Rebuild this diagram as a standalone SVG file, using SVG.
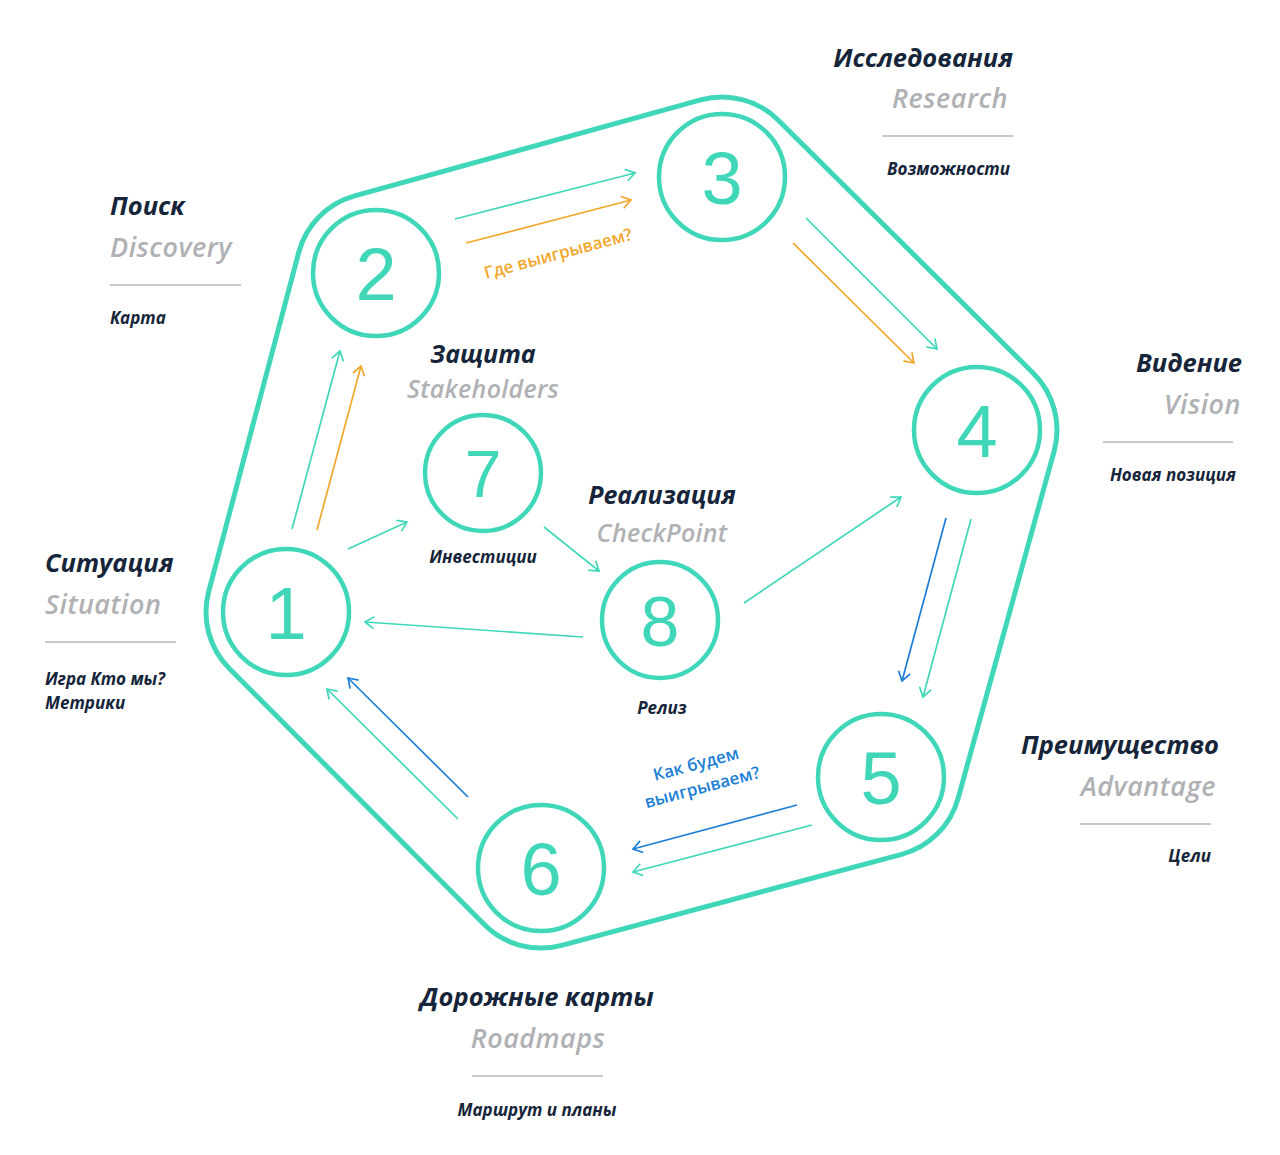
<svg xmlns="http://www.w3.org/2000/svg" width="1280" height="1155" viewBox="0 0 1280 1155">
<style>
.ring{fill:none;stroke:#40d7b9;stroke-width:4.5}
.hull{fill:none;stroke:#40d7b9;stroke-width:5}
.num{font-family:"Liberation Sans","Inter",sans-serif;fill:#40d7b9;text-anchor:middle}
.t{font-family:"Open Sans","Noto Sans",sans-serif;font-style:italic;font-weight:700;font-size:25.5px;fill:#16253a}
.s{font-family:"Open Sans","Noto Sans",sans-serif;font-style:italic;font-weight:600;font-size:27px;letter-spacing:0.5px;fill:#afb1b4}
.d{font-family:"Open Sans","Noto Sans",sans-serif;font-style:italic;font-weight:700;font-size:17px;fill:#16253a}
.t.sm{font-size:25px}
.s.sm{font-size:25px;letter-spacing:0.3px}
.rule{stroke:#8d929a;stroke-width:1}
.a{fill:none;stroke-width:1.7}
.tl{stroke:#40d7b9}
.or{stroke:#f2a72c}
.bl{stroke:#1c7fd5}
.q{font-family:"Open Sans","Noto Sans",sans-serif;font-weight:600;font-size:17px}
</style>
<defs>
<marker id="mt" markerUnits="userSpaceOnUse" markerWidth="20" markerHeight="20" refX="0" refY="0" viewBox="-12 -10 14 20" orient="auto"><path d="M-9,-6 L0,0 L-9,6" fill="none" stroke="#40d7b9" stroke-width="1.7"/></marker>
<marker id="mo" markerUnits="userSpaceOnUse" markerWidth="20" markerHeight="20" refX="0" refY="0" viewBox="-12 -10 14 20" orient="auto"><path d="M-9,-6 L0,0 L-9,6" fill="none" stroke="#f2a72c" stroke-width="1.7"/></marker>
<marker id="mb" markerUnits="userSpaceOnUse" markerWidth="20" markerHeight="20" refX="0" refY="0" viewBox="-12 -10 14 20" orient="auto"><path d="M-9,-6 L0,0 L-9,6" fill="none" stroke="#1c7fd5" stroke-width="1.7"/></marker>
</defs>
<rect width="1280" height="1155" fill="#ffffff"/>
<path class="hull" d="M208.7,591.5 L298.7,252.5 A80,80 0 0 1 354.6,195.9 L700.6,99.9 A80,80 0 0 1 778.3,120.2 L1033.3,373.2 A80,80 0 0 1 1054.1,451.3 L958.1,798.3 A80,80 0 0 1 901.7,854.3 L561.7,945.3 A80,80 0 0 1 484.3,924.5 L229.3,668.5 A80,80 0 0 1 208.7,591.5 Z"/>
<g id="connectors">
<line class="a tl" x1="455" y1="219" x2="635" y2="173" marker-end="url(#mt)"/>
<line class="a or" x1="466" y1="243" x2="631" y2="200" marker-end="url(#mo)"/>
<line class="a tl" x1="806" y1="218" x2="937" y2="349" marker-end="url(#mt)"/>
<line class="a or" x1="793" y1="243" x2="914" y2="363" marker-end="url(#mo)"/>
<line class="a bl" x1="946" y1="518" x2="902" y2="681" marker-end="url(#mb)"/>
<line class="a tl" x1="971" y1="519" x2="923" y2="697" marker-end="url(#mt)"/>
<line class="a bl" x1="797" y1="805" x2="633" y2="849" marker-end="url(#mb)"/>
<line class="a tl" x1="812" y1="825" x2="633" y2="872" marker-end="url(#mt)"/>
<line class="a bl" x1="468" y1="797" x2="348" y2="678" marker-end="url(#mb)"/>
<line class="a tl" x1="458" y1="819" x2="327" y2="689" marker-end="url(#mt)"/>
<line class="a tl" x1="292" y1="529" x2="340" y2="351" marker-end="url(#mt)"/>
<line class="a or" x1="317" y1="530" x2="361" y2="366" marker-end="url(#mo)"/>
<line class="a tl" x1="348" y1="549" x2="407" y2="522" marker-end="url(#mt)"/>
<line class="a tl" x1="544" y1="527" x2="599" y2="571" marker-end="url(#mt)"/>
<line class="a tl" x1="583" y1="637" x2="365" y2="622" marker-end="url(#mt)"/>
<line class="a tl" x1="744" y1="603" x2="901" y2="497" marker-end="url(#mt)"/>
<text class="q" fill="#f2a72c" transform="translate(486,279) rotate(-15)">Где выигрываем?</text>
<g transform="translate(655,781) rotate(-15)">
<text class="q" fill="#1c7fd5" text-anchor="middle" x="44" y="0">Как будем</text>
<text class="q" fill="#1c7fd5" text-anchor="middle" x="44" y="24">выигрываем?</text>
</g>
</g>
<g id="node1">
<circle class="ring" cx="286" cy="612" r="63"/>
<text class="num" x="286" y="639" font-size="74">1</text>
<text class="t" x="45" y="572">Ситуация</text>
<text class="s" x="45" y="614">Situation</text>
<line class="rule" x1="45" y1="642" x2="176" y2="642"/>
<text class="d" x="45" y="685">Игра Кто мы?</text>
<text class="d" x="45" y="709">Метрики</text>
</g>
<g id="node2">
<circle class="ring" cx="376" cy="273" r="63"/>
<text class="num" x="376" y="300" font-size="74">2</text>
<text class="t" x="110" y="215">Поиск</text>
<text class="s" x="110" y="257">Discovery</text>
<line class="rule" x1="110" y1="285" x2="241" y2="285"/>
<text class="d" x="110" y="324">Карта</text>
</g>
<g id="node3">
<circle class="ring" cx="722" cy="177" r="63"/>
<text class="num" x="722" y="204" font-size="74">3</text>
<text class="t" x="1013" y="67" text-anchor="end">Исследования</text>
<text class="s" x="1008" y="108" text-anchor="end">Research</text>
<line class="rule" x1="882" y1="136" x2="1013" y2="136"/>
<text class="d" x="1010" y="175" text-anchor="end">Возможности</text>
</g>
<g id="node4">
<circle class="ring" cx="977" cy="430" r="63"/>
<text class="num" x="977" y="457" font-size="74">4</text>
<text class="t" x="1242" y="372" text-anchor="end">Видение</text>
<text class="s" x="1241" y="414" text-anchor="end">Vision</text>
<line class="rule" x1="1103" y1="442" x2="1233" y2="442"/>
<text class="d" x="1236" y="481" text-anchor="end">Новая позиция</text>
</g>
<g id="node5">
<circle class="ring" cx="881" cy="777" r="63"/>
<text class="num" x="881" y="804" font-size="74">5</text>
<text class="t" x="1219" y="754" text-anchor="end">Преимущество</text>
<text class="s" x="1216" y="796" text-anchor="end">Advantage</text>
<line class="rule" x1="1080" y1="824" x2="1211" y2="824"/>
<text class="d" x="1211" y="862" text-anchor="end">Цели</text>
</g>
<g id="node6">
<circle class="ring" cx="541" cy="868" r="63"/>
<text class="num" x="541" y="895" font-size="74">6</text>
<text class="t" x="537" y="1006" text-anchor="middle">Дорожные карты</text>
<text class="s" x="538" y="1048" text-anchor="middle">Roadmaps</text>
<line class="rule" x1="472" y1="1076" x2="603" y2="1076"/>
<text class="d" x="537" y="1116" text-anchor="middle">Маршрут и планы</text>
</g>
<g id="node7">
<circle class="ring" cx="483" cy="473" r="58"/>
<text class="num" x="483" y="497" font-size="66">7</text>
<text class="t sm" x="483" y="363" text-anchor="middle">Защита</text>
<text class="s sm" x="483" y="398" text-anchor="middle">Stakeholders</text>
<text class="d" x="483" y="563" text-anchor="middle">Инвестиции</text>
</g>
<g id="node8">
<circle class="ring" cx="660" cy="620" r="58"/>
<text class="num" x="660" y="646" font-size="70">8</text>
<text class="t sm" x="662" y="504" text-anchor="middle">Реализация</text>
<text class="s sm" x="662" y="542" text-anchor="middle">CheckPoint</text>
<text class="d" x="662" y="714" text-anchor="middle">Релиз</text>
</g>
</svg>
